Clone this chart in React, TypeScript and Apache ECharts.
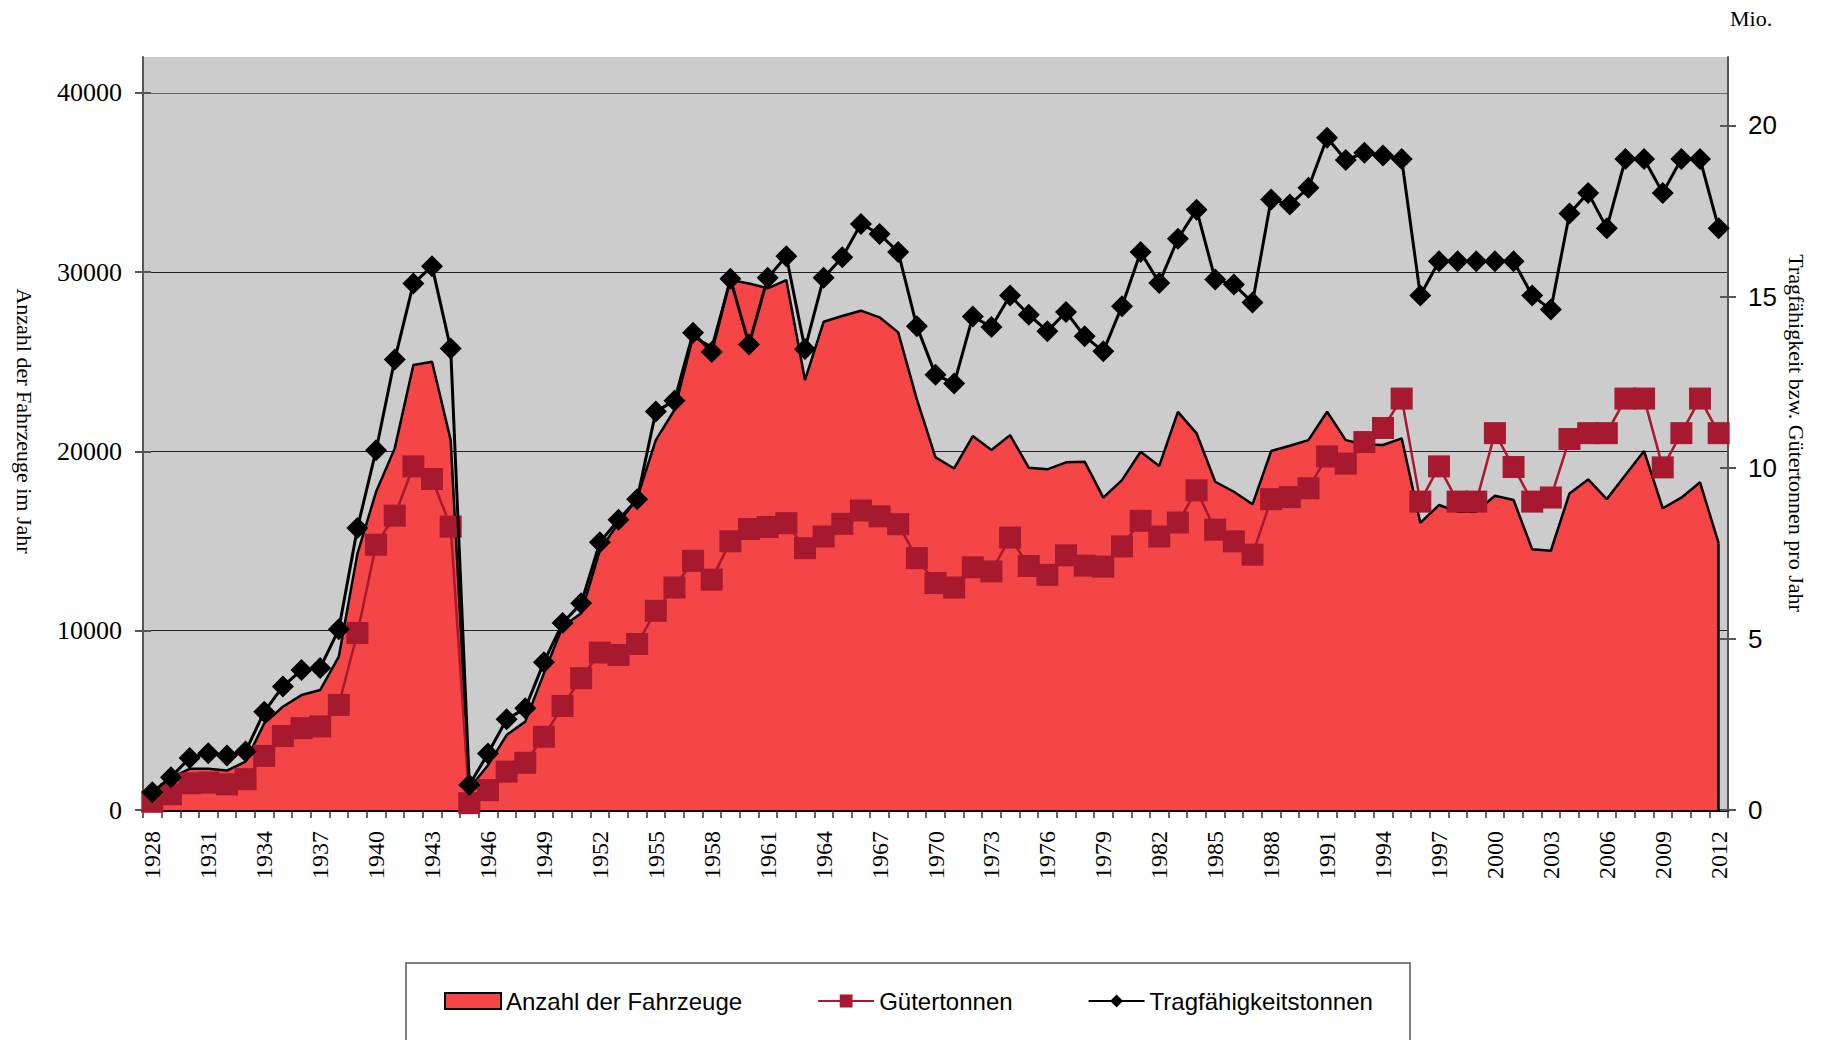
import React, { useEffect, useRef } from "react";
import * as echarts from "echarts";

const years = [
  "1928","1929","1930","1931","1932","1933","1934","1935","1936","1937",
  "1938","1939","1940","1941","1942","1943","1944","1945","1946","1947",
  "1948","1949","1950","1951","1952","1953","1954","1955","1956","1957",
  "1958","1959","1960","1961","1962","1963","1964","1965","1966","1967",
  "1968","1969","1970","1971","1972","1973","1974","1975","1976","1977",
  "1978","1979","1980","1981","1982","1983","1984","1985","1986","1987",
  "1988","1989","1990","1991","1992","1993","1994","1995","1996","1997",
  "1998","1999","2000","2001","2002","2003","2004","2005","2006","2007",
  "2008","2009","2010","2011","2012",
];

// Anzahl der Fahrzeuge (left axis)
const fahrzeuge = [
  800, 1800, 2300, 2300, 2200, 2700, 4830, 5760, 6410, 6690,
  8550, 14300, 17750, 20170, 24820, 25000, 20630, 1200, 2500, 4180,
  4930, 7620, 10220, 10970, 14500, 16000, 17380, 20630, 22310, 26400,
  25840, 29560, 29370, 29100, 29560, 23980, 27230, 27550, 27850, 27480,
  26640, 22900, 19670, 19050, 20860, 20080, 20910, 19090, 19000, 19390,
  19430, 17420, 18400, 19980, 19190, 22210, 21010, 18310, 17750, 17050,
  20020, 20320, 20630, 22210, 20630, 20390, 20360, 20730, 16020, 17010,
  16640, 16640, 17530, 17290, 14540, 14460, 17660, 18440, 17340, 18680,
  20020, 16830, 17420, 18280, 14870,
];

// Gütertonnen (Mio., right axis)
const gueter = [
  0.24, 0.46, 0.78, 0.8, 0.75, 0.9, 1.58, 2.16, 2.39, 2.44,
  3.07, 5.17, 7.75, 8.6, 10.04, 9.67, 8.28, 0.2, 0.58, 1.12,
  1.38, 2.14, 3.04, 3.85, 4.6, 4.53, 4.85, 5.82, 6.5, 7.28,
  6.73, 7.85, 8.21, 8.27, 8.38, 7.65, 7.99, 8.36, 8.75, 8.58,
  8.35, 7.36, 6.63, 6.5, 7.09, 6.97, 7.96, 7.13, 6.87, 7.44,
  7.14, 7.11, 7.7, 8.45, 7.99, 8.4, 9.34, 8.19, 7.85, 7.46,
  9.08, 9.14, 9.4, 10.33, 10.12, 10.75, 11.16, 12.02, 9.01, 10.04,
  9.01, 9.01, 11.01, 10.02, 9.01, 9.13, 10.84, 11.01, 11.01, 12.02,
  12.02, 10.01, 11.01, 12.02, 11.01,
];

// Tragfähigkeitstonnen (Mio., right axis)
const tragf = [
  0.52, 0.96, 1.52, 1.66, 1.59, 1.71, 2.87, 3.61, 4.09, 4.15,
  5.28, 8.24, 10.51, 13.16, 15.38, 15.89, 13.48, 0.73, 1.65, 2.65,
  2.97, 4.32, 5.46, 6.04, 7.82, 8.48, 9.08, 11.64, 11.96, 13.94,
  13.38, 15.52, 13.6, 15.55, 16.18, 13.47, 15.55, 16.15, 17.12, 16.83,
  16.3, 14.13, 12.72, 12.46, 14.42, 14.11, 15.03, 14.47, 13.99, 14.55,
  13.84, 13.4, 14.72, 16.3, 15.4, 16.69, 17.54, 15.5, 15.35, 14.83,
  17.84, 17.69, 18.18, 19.64, 18.99, 19.2, 19.12, 19.02, 15.03, 16.03,
  16.03, 16.03, 16.03, 16.03, 15.03, 14.62, 17.43, 18.03, 17.0, 19.02,
  19.02, 18.03, 19.02, 19.02, 17.0,
];

const leftTicks = [0, 10000, 20000, 30000, 40000];
const rightTicks = [0, 5, 10, 15, 20];

const SERIF = "'Liberation Serif', 'Times New Roman', serif";
const SANS = "'Liberation Sans', Arial, sans-serif";
const RED = "#F44646";
const CRIMSON = "#A6192E";

export default function App() {
  const ref = useRef<HTMLDivElement>(null);

  useEffect(() => {
    if (!ref.current) return;
    const chart = echarts.init(ref.current, undefined, { renderer: "svg" });
    const lastYear = years[years.length - 1];
    const lastVal = fahrzeuge[fahrzeuge.length - 1];

    const baseLeft = {
      type: "value",
      position: "left",
      min: 0,
      max: 42000,
      interval: 10000,
    };
    const baseRight = {
      type: "value",
      position: "right",
      min: 0,
      max: 22,
      interval: 5,
    };

    const option: any = {
      animation: false,
      backgroundColor: "#ffffff",
      grid: {
        left: 143,
        top: 57,
        width: 1585,
        height: 753,
        show: true,
        backgroundColor: "#cccccc",
        borderWidth: 0,
      },
      xAxis: {
        type: "category",
        data: years,
        boundaryGap: true,
        axisLine: { show: true, lineStyle: { color: "#000", width: 3 } },
        axisTick: {
          show: true,
          interval: 0,
          length: 8,
          lineStyle: { color: "#333", width: 1.5 },
        },
        axisLabel: {
          interval: 2,
          rotate: 90,
          margin: 21,
          fontFamily: SERIF,
          fontSize: 24,
          color: "#000",
        },
        splitLine: { show: false },
      },
      yAxis: [
        {
          ...baseLeft,
          axisLine: { show: true, lineStyle: { color: "#555", width: 2 } },
          axisTick: {
            show: true,
            length: 8,
            customValues: leftTicks,
            lineStyle: { color: "#555", width: 2 },
          },
          axisLabel: {
            margin: 21,
            fontFamily: SERIF,
            fontSize: 26,
            color: "#000",
            formatter: (v: number) => (v > 40000 ? "" : String(v)),
          },
          splitLine: {
            show: true,
            lineStyle: {
              color: ["#222", "#222", "#222", "#222", "#666", "rgba(0,0,0,0)"],
              width: 1.2,
            },
          },
        },
        {
          ...baseRight,
          axisLine: { show: true, lineStyle: { color: "#555", width: 2 } },
          axisTick: {
            show: true,
            length: 8,
            customValues: rightTicks,
            lineStyle: { color: "#555", width: 2 },
          },
          axisLabel: {
            margin: 20,
            fontFamily: SANS,
            fontSize: 26,
            color: "#000",
            formatter: (v: number) => (v > 20 ? "" : String(v)),
          },
          splitLine: { show: false },
        },
        {
          ...baseLeft,
          axisLine: { show: false },
          axisTick: {
            show: true,
            inside: true,
            length: 8,
            customValues: leftTicks,
            lineStyle: { color: "#555", width: 2 },
          },
          axisLabel: { show: false },
          splitLine: { show: false },
        },
        {
          ...baseRight,
          axisLine: { show: false },
          axisTick: {
            show: true,
            inside: true,
            length: 8,
            customValues: rightTicks,
            lineStyle: { color: "#555", width: 2 },
          },
          axisLabel: { show: false },
          splitLine: { show: false },
        },
      ],
      legend: {
        left: 439,
        top: 984,
        itemWidth: 56,
        itemHeight: 16,
        itemGap: 75,
        textStyle: { fontFamily: SANS, fontSize: 24, color: "#000" },
        data: [
          {
            name: "Anzahl der Fahrzeuge",
            icon: "rect",
            itemStyle: { color: RED, borderColor: "#000", borderWidth: 2 },
          },
          { name: "Gütertonnen" },
          { name: "Tragfähigkeitstonnen" },
        ],
      },
      graphic: [
        {
          type: "rect",
          z: 0,
          shape: { x: 406, y: 963, width: 1004, height: 90 },
          style: { fill: "#fff", stroke: "#555", lineWidth: 1.5 },
        },
        {
          type: "text",
          x: 24,
          y: 421,
          rotation: -Math.PI / 2,
          style: {
            text: "Anzahl der Fahrzeuge im Jahr",
            fontFamily: SERIF,
            fontSize: 22,
            fill: "#000",
            align: "center",
            verticalAlign: "middle",
          },
        },
        {
          type: "text",
          x: 1796,
          y: 433,
          rotation: -Math.PI / 2,
          style: {
            text: "Tragfähigkeit bzw. Gütertonnen pro Jahr",
            fontFamily: SERIF,
            fontSize: 22,
            fill: "#000",
            align: "center",
            verticalAlign: "middle",
          },
        },
        {
          type: "text",
          x: 1730,
          y: 18,
          style: {
            text: "Mio.",
            fontFamily: SERIF,
            fontSize: 22,
            fill: "#000",
            align: "left",
            verticalAlign: "middle",
          },
        },
      ],
      series: [
        {
          name: "Anzahl der Fahrzeuge",
          type: "line",
          yAxisIndex: 0,
          data: fahrzeuge,
          symbol: "none",
          showSymbol: false,
          z: 2,
          itemStyle: { color: RED },
          lineStyle: { color: "#000", width: 2.5 },
          areaStyle: { color: RED, opacity: 1 },
          markLine: {
            silent: true,
            symbol: "none",
            label: { show: false },
            lineStyle: { color: "#000", width: 2.5, type: "solid" },
            data: [[{ coord: [lastYear, 0] }, { coord: [lastYear, lastVal] }]],
          },
        },
        {
          name: "Gütertonnen",
          type: "line",
          yAxisIndex: 1,
          data: gueter,
          symbol: "rect",
          symbolSize: 22,
          showAllSymbol: true,
          z: 3,
          itemStyle: { color: CRIMSON },
          lineStyle: { color: CRIMSON, width: 2.5 },
        },
        {
          name: "Tragfähigkeitstonnen",
          type: "line",
          yAxisIndex: 1,
          data: tragf,
          symbol: "diamond",
          symbolSize: 22,
          showAllSymbol: true,
          z: 4,
          itemStyle: { color: "#000" },
          lineStyle: { color: "#000", width: 3 },
        },
      ],
    };

    chart.setOption(option);
    return () => chart.dispose();
  }, []);

  return (
    <div
      ref={ref}
      style={{ position: "fixed", left: 0, top: 0, width: 1823, height: 1040 }}
    />
  );
}
